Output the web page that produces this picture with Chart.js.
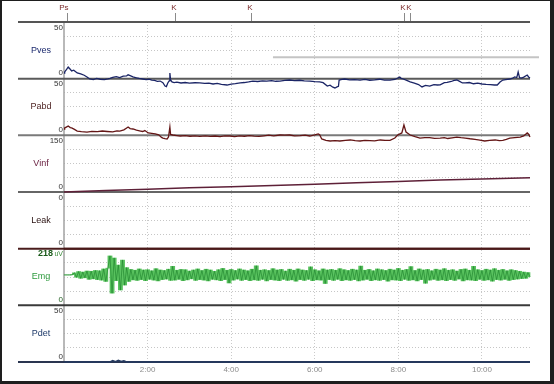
<!DOCTYPE html>
<html><head><meta charset="utf-8">
<script src="https://cdn.jsdelivr.net/npm/chart.js@4.4.1/dist/chart.umd.min.js"></script>
<style>html,body{margin:0;padding:0;background:#1e1e1e;overflow:hidden}canvas{display:block}</style>
</head><body>
<canvas id="c" width="554" height="384"></canvas>
<script>
// ---- data ----
const panelNames = ['Pves','Pabd','Vinf','Leak','Emg','Pdet'];
const panelMax = [50,50,150,0.4,218,50];
const panelTopLabels = ['50','50','150','0','218','50'];
const panelBottomLabels = ['0','0','0','0','0','0'];
const timeMax = 669;
const timeTicks = [0,120,240,360,480,600];
const markerLabels = ['Ps','K','K','K','K'];
const markerTimes = [4,159,268,488,497];

const pvesTime = [0,1,4,6,8,11,14,19,24,29,33,37,42,47,52,58,63,66,70,75,80,85,90,92,95,99,104,108,113,118,122,126,130,134,138,142,145,147,149,151,152,153,155,158,162,168,174,180,188,195,202,208,214,220,226,234,240,246,253,259,265,271,278,285,291,298,304,310,317,324,331,338,345,353,360,367,372,378,382,386,389,392,394,395,399,403,410,417,425,432,439,446,453,460,468,475,482,484,487,492,497,503,509,514,519,525,531,536,540,546,550,556,560,564,568,572,576,582,588,594,600,606,612,618,622,626,630,634,640,644,647,650,652,654,657,660,665,667,669];
const pvesValue = [5,5.9,8.5,10.3,9,6.8,7.5,5,4.2,3,1.5,-0.3,-0.8,0.2,-0.5,-0.9,-0.2,0.3,1.2,1.8,1,2.2,2.5,3.4,2.6,1.5,0.8,0.2,-0.3,-0.8,-0.5,-1.2,-1.6,-2.3,-2.1,-3.5,-6.5,-7,-3.8,-2,5,-1,-2.9,-3.4,-3,-3.8,-3.4,-4,-3.6,-3.8,-4.2,-3.9,-4.7,-4.2,-5,-5.6,-4.8,-4.4,-3.8,-3.4,-2.8,-2.1,-2.5,-2,-2.1,-1.7,-2.3,-2.1,-1.5,-1.2,-1.8,-1.4,-2,-2.1,-2.6,-2.9,-3.5,-6.5,-5.8,-7.5,-8.2,-7.3,-6.8,-1.2,-0.6,-0.3,-1,-0.8,-1.2,-0.6,-1.4,-1,-0.5,-1.3,-1.2,-0.7,1.5,0.3,-0.3,-1.5,-2.9,-4,-5.2,-7.3,-6,-6.5,-5.2,-5.6,-5.4,-3.5,-3.3,-2.5,-1.5,-1.2,-2.4,-3.8,-3.8,-3.4,-4.5,-4,-4.7,-5,-5.2,-5.6,-5.6,-3,-1.2,-0.8,-0.3,0.4,1.5,1,5.9,0.8,0.6,1.4,3.2,1.5,0.6];

const pabdTime = [0,1,4,6,9,11,15,19,25,33,40,48,55,62,70,76,80,86,90,92,95,99,104,110,113,116,121,126,131,136,140,142,145,148,150,152,153,156,162,167,174,181,188,195,203,210,217,224,231,238,245,252,259,266,273,280,287,294,301,310,317,324,331,339,346,353,360,365,367,370,376,382,389,396,404,411,418,425,432,439,446,454,461,468,475,479,485,488,491,497,504,511,518,525,532,540,546,551,557,564,570,576,583,590,597,604,611,619,625,630,635,640,647,655,660,665,667,669];
const pabdValue = [5.5,6.5,7.5,8.2,6.8,6.5,5.2,3.8,3.3,2.9,3.5,3.2,3.8,3.4,3,4,3.8,4.8,6.5,7.3,6,5.6,4.5,3.8,3.4,4.2,2.1,1.8,1.2,0.5,-1.8,-2.4,-3,-3.2,-1.5,7.3,0.8,0.3,-0.2,-0.6,-0.3,-0.8,-0.5,-1,-0.4,-0.9,-0.6,-1.2,-0.5,-0.6,-1.1,-0.4,-0.8,-0.2,-0.7,-1,-0.4,0.2,-0.5,0.3,0.1,0.3,-0.4,-0.2,0.2,-0.6,0.4,1.2,0.5,-3.2,-4.4,-5,-4.6,-5,-4.5,-4.1,-4.7,-5,-4.4,-4.6,-4.9,-4.1,-4.5,-4.4,-2.4,0.3,2.1,9.1,2.9,0.3,-1.2,-2.4,-2.1,-2,-2.6,-2.4,-2,-2.8,-2.2,-1.5,-2,-2.4,-3,-3.5,-4.2,-5,-4.5,-4.1,-4.6,-4.4,-3.5,-2.4,-2,-1.5,-0.5,2.1,1,-1.5];

const vinfTime = [0,60,120,180,240,300,360,420,480,540,600,669];
const vinfValue = [0,4,7.5,11,14,17,20.5,24.5,28,31.5,34.5,37.5];

const leakTime = [0,669];
const leakValue = [0,0];

const emgStep = 3; // seconds between samples
const emgValue = [117,117,117,117,118,
125,108,130,104,128,106,132,100,
131,102,134,99,133,
97,140,92,143,
190,47,182,95,155,59,174,78,145,92,
138,98,135,96,140,99,136,95,137,100,133,97,141,94,136,99,
134,101,139,96,150,97,135,100,138,95,137,98,132,102,136,96,
140,99,134,97,139,94,136,100,131,98,137,95,142,99,135,86,
138,97,134,101,140,96,136,99,133,95,139,98,152,96,135,100,
137,94,134,99,141,97,136,95,138,100,132,96,139,98,135,93,
140,99,136,96,134,100,148,95,137,98,133,97,140,84,136,99,
138,96,135,100,141,95,137,98,134,96,139,99,136,94,151,97,
135,100,138,95,133,98,140,96,137,99,134,93,139,98,136,97,
142,95,135,100,138,96,149,98,134,94,140,99,136,85,138,97,
133,100,139,96,136,98,141,95,135,99,137,96,132,101,138,94,
140,98,135,97,150,95,137,100,134,96,139,98,136,93,141,99,
135,97,138,100,133,96,137,99,134,101,131,103,128,104,126,110];

const pdetTime = [0,66,70,74,78,82,86,90,669];
const pdetValue = [0,0,1.2,0.3,1.5,0.4,1,0,0];

// ---- build ----
const zip = (t, v) => t.map((x, i) => ({x, y: v[i]}));
const emgLine = emgValue.map((v, i) => ({x: i * emgStep, y: v}));
// range swept by the signal between consecutive samples (floating bars)
const emgRange = emgValue.slice(1).map((v, i) => ({
  x: i * emgStep + emgStep / 2,
  y: [Math.min(v, emgValue[i]), Math.max(v, emgValue[i])]
}));
const panelIds = ['yPves','yPabd','yVinf','yLeak','yEmg','yPdet'];
const nameColors = ['#1c2a6e','#4a1e1e','#6a2242','#2a1212','#2e9a3e','#1e3a6a'];
const sepColors = ['#555555','#5a5a5a','#7a7a7a','#666666','#4a1c1c','#3a3a3a'];
const FONT = '"Liberation Sans", Arial, sans-serif';

const ds = (label, data, axis, color, w) => ({
  label, data, yAxisID: axis, borderColor: color, borderWidth: w,
  pointRadius: 0, tension: 0, fill: false, clip: false, order: 0
});

function yScale(i) {
  return {
    type: 'linear', position: 'left', stack: 'panels', stackWeight: 1,
    min: 0, max: panelMax[i], offset: false,
    afterBuildTicks: s => { s.ticks = [0,1,2,3,4].map(k => ({value: s.min + k * (s.max - s.min) / 4})); },
    afterFit: s => { s.width = 0; },
    ticks: {display: false},
    grid: {drawTicks: false, lineWidth: 1,
      color: c => (c.index === 0 || c.index === 4) ? 'rgba(0,0,0,0)' : '#c6c6c6'},
    border: {display: false, dash: [1, 2]}
  };
}

const scales = {
  x: {
    type: 'linear', min: 0, max: timeMax, offset: false,
    afterBuildTicks: s => { s.ticks = timeTicks.map(v => ({value: v})); },
    afterFit: s => { s.height = 14; },
    ticks: {
      autoSkip: false, maxRotation: 0, padding: 3, color: '#8c8c8c',
      font: {family: FONT, size: 8},
      callback: v => v === 0 ? '' : (Math.floor(v / 60) + ':' + String(v % 60).padStart(2, '0'))
    },
    grid: {drawTicks: false, lineWidth: 1, offset: false,
      color: c => (c.tick && c.tick.value === 0) ? 'rgba(0,0,0,0)' : '#cacaca'},
    border: {display: false, dash: [1, 2]}
  }
};
// stacked left axes: defined bottom-first so that Pves ends on top
for (let i = panelIds.length - 1; i >= 0; i--) scales[panelIds[i]] = yScale(i);

const decor = {
  id: 'decor',
  beforeDraw(chart) {
    const c = chart.ctx;
    c.save();
    c.fillStyle = '#1e1e1e'; c.fillRect(0, 0, 554, 384);
    c.fillStyle = '#ffffff'; c.fillRect(2, 1, 548, 380);
    c.restore();
  },
  beforeDatasetsDraw(chart) {
    const c = chart.ctx, a = chart.chartArea, xs = chart.scales.x;
    const ys = panelIds.map(id => chart.scales[id]);
    c.save();
    c.strokeStyle = '#c4c4c4'; c.lineWidth = 2;
    const gy = ys[0].getPixelForValue(19);
    c.beginPath(); c.moveTo(xs.getPixelForValue(300), gy); c.lineTo(a.right + 9, gy); c.stroke();
    c.strokeStyle = '#a2a2a2'; c.lineWidth = 1.5;
    c.beginPath(); c.moveTo(a.left, a.top); c.lineTo(a.left, a.bottom); c.stroke();
    c.lineWidth = 2;
    ys.forEach((s, i) => {
      c.strokeStyle = sepColors[i];
      c.beginPath(); c.moveTo(18, s.top); c.lineTo(a.right, s.top); c.stroke();
    });
    c.strokeStyle = '#2a3550';
    const b = ys[ys.length - 1].bottom;
    c.beginPath(); c.moveTo(18, b); c.lineTo(a.right, b); c.stroke();
    c.strokeStyle = '#8a8a8a'; c.lineWidth = 1;
    c.fillStyle = '#7b2b2b'; c.font = '8px ' + FONT;
    c.textAlign = 'right'; c.textBaseline = 'middle';
    markerTimes.forEach((t, i) => {
      const x = Math.round(xs.getPixelForValue(t)) + 0.5;
      c.beginPath(); c.moveTo(x, a.top - 9); c.lineTo(x, a.top - 1); c.stroke();
      c.fillText(markerLabels[i], x + 1, a.top - 14);
    });
    c.restore();
  },
  afterDraw(chart) {
    const c = chart.ctx, a = chart.chartArea;
    c.save();
    panelIds.forEach((id, i) => {
      const s = chart.scales[id];
      c.textBaseline = 'middle';
      c.textAlign = 'center';
      c.fillStyle = nameColors[i];
      c.font = '9px ' + FONT;
      c.fillText(panelNames[i], 41, (s.top + s.bottom) / 2);
      c.textAlign = 'right';
      c.font = '8px ' + FONT;
      c.fillStyle = '#333333';
      if (panelNames[i] === 'Emg') {
        c.font = 'bold 9px ' + FONT;
        c.fillStyle = '#1a5a1a';
        c.fillText(panelTopLabels[i], a.left - 11, s.top + 5);
        c.font = '7px ' + FONT;
        c.fillStyle = '#3a8a3a';
        c.fillText('uV', a.left - 1, s.top + 5.5);
        c.font = '8px ' + FONT;
        c.fillStyle = '#1f5f1f';
      } else {
        c.fillText(panelTopLabels[i], a.left - 1, s.top + 5.5);
      }
      c.fillText(panelBottomLabels[i], a.left - 1, s.bottom - 5.5);
    });
    c.restore();
  }
};

new Chart(document.getElementById('c'), {
  type: 'line',
  data: {datasets: [
    ds('Pves', zip(pvesTime, pvesValue), 'yPves', '#1b2566', 1.3),
    ds('Pabd', zip(pabdTime, pabdValue), 'yPabd', '#641616', 1.3),
    ds('Vinf', zip(vinfTime, vinfValue), 'yVinf', '#5e2038', 1.5),
    ds('Leak', zip(leakTime, leakValue), 'yLeak', '#4a1818', 2),
    {type: 'bar', label: 'EmgBand', data: emgRange, yAxisID: 'yEmg', order: 5,
     backgroundColor: '#58c25e', borderWidth: 0, barPercentage: 1, categoryPercentage: 1,
     grouped: false, clip: false},
    ds('Emg', emgLine, 'yEmg', 'rgba(32,130,46,0.8)', 0.8),
    ds('Pdet', zip(pdetTime, pdetValue), 'yPdet', '#253a60', 1.5)
  ]},
  options: {
    responsive: false, animation: false, events: [],
    layout: {padding: {left: 64, right: 24, top: 22, bottom: 8}},
    plugins: {legend: {display: false}, tooltip: {enabled: false}},
    scales
  },
  plugins: [decor]
});
</script>
</body></html>
